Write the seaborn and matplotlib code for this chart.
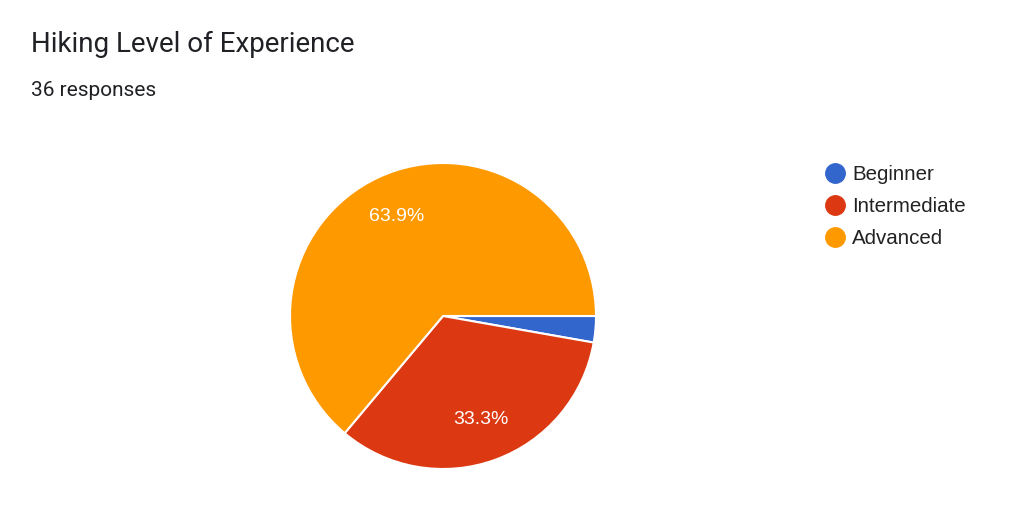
import matplotlib
matplotlib.use("Agg")
import matplotlib.pyplot as plt
import seaborn as sns
from matplotlib.lines import Line2D

categories = ["Beginner", "Intermediate", "Advanced"]
counts = [1, 12, 23]
colors_hex = ["#3366cc", "#dc3912", "#ff9900"]
title = "Hiking Level of Experience"
subtitle = "36 responses"

sns.set_theme(style="white")
plt.rcParams['font.family'] = ['Liberation Sans', 'DejaVu Sans']
palette = sns.color_palette(colors_hex)

fig = plt.figure(figsize=(10.24, 5.25), dpi=100)
fig.patch.set_facecolor("white")

W, H = 1024, 525
cx, cy, r = 443, 316, 153
ax = fig.add_axes([(cx - r) / W, (H - cy - r) / H, 2 * r / W, 2 * r / H])

def fmt(p):
    return f"{p:.1f}%" if p >= 5 else ""

wedges, texts, autotexts = ax.pie(
    counts, colors=palette, startangle=0, counterclock=False,
    autopct=fmt, pctdistance=0.72, radius=1.0,
    wedgeprops=dict(edgecolor="white", linewidth=1.5),
    textprops=dict(color="white", fontsize=14),
)
ax.set_xlim(-1.0, 1.0)
ax.set_ylim(-1.0, 1.0)
ax.set_aspect("equal")
ax.axis("off")

fig.text(31 / W, 1 - 44 / H, title, fontsize=20, color="#202124",
         family=["Roboto", "DejaVu Sans"], va="center", ha="left")
fig.text(31 / W, 1 - 90 / H, subtitle, fontsize=15, color="#202124",
         family=["Roboto", "DejaVu Sans"], va="center", ha="left")

handles = [Line2D([0], [0], marker="o", linestyle="", markersize=14,
                  markerfacecolor=c, markeredgecolor=c) for c in palette]
leg = fig.legend(handles, categories, loc="upper left",
                 bbox_to_anchor=(814 / W, 1 - 157 / H), frameon=False,
                 fontsize=14.8, handletextpad=0.25, labelspacing=0.62,
                 handlelength=1.2, borderaxespad=0)
for t in leg.get_texts():
    t.set_color("#222222")

fig.savefig("out.png", dpi=100, facecolor="white")
